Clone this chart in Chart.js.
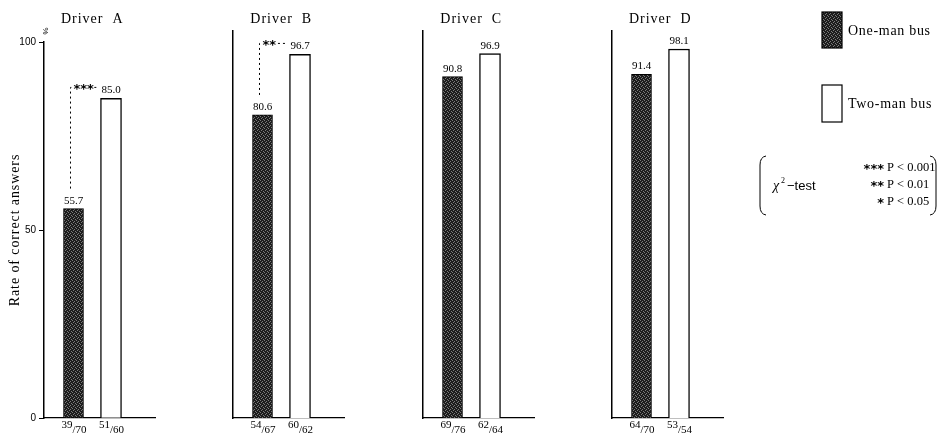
<!DOCTYPE html>
<html>
<head>
<meta charset="utf-8">
<script src="https://cdn.jsdelivr.net/npm/chart.js@4.4.1/dist/chart.umd.min.js"></script>
<style>
  html, body { margin: 0; padding: 0; background: #fff; }
  #wrap { position: relative; width: 939px; height: 436px; overflow: hidden; }
  #wrap canvas { position: absolute; left: 0; top: 0; }
</style>
</head>
<body>
<div id="wrap">
  <canvas id="panel0" width="939" height="436"></canvas>
  <canvas id="panel1" width="939" height="436"></canvas>
  <canvas id="panel2" width="939" height="436"></canvas>
  <canvas id="panel3" width="939" height="436"></canvas>
</div>
<script>
// data
const drivers = ['Driver  A', 'Driver  B', 'Driver  C', 'Driver  D'];
const busTypes = ['One-man bus', 'Two-man bus'];
const oneManRate = [55.7, 80.6, 90.8, 91.4];
const twoManRate = [85.0, 96.7, 96.9, 98.1];
const oneManFrac = [['39', '70'], ['54', '67'], ['69', '76'], ['64', '70']];
const twoManFrac = [['51', '60'], ['60', '62'], ['62', '64'], ['53', '54']];
const significance = ['***', '**', '', ''];
const yTicks = [0, 50, 100];
const pStars = ['***', '**', '*'];
const pTexts = ['P < 0.001', 'P < 0.01', 'P < 0.05'];

// layout
const axisLeft = [44, 233, 423, 612];
const panelWidth = 111;
const firstBar = 29.5;   // px from axis to first bar centre
const barStep = 37.5;    // px between bar centres
const yBottom = 418;
const pxPerUnit = 3.76;
const serif = '"Liberation Serif", "DejaVu Serif", serif';
const sans = '"Liberation Sans", "DejaVu Sans", sans-serif';
const starFont = 'bold 13px "DejaVu Sans", sans-serif';

// stippled fill for the one-man bars
const patCanvas = document.createElement('canvas');
patCanvas.width = 4; patCanvas.height = 4;
const pctx = patCanvas.getContext('2d');
pctx.fillStyle = '#1c1c1c';
pctx.fillRect(0, 0, 4, 4);
pctx.fillStyle = '#7a7a7a';
[[0, 0], [2, 1], [1, 2], [3, 3]].forEach(p => pctx.fillRect(p[0], p[1], 1, 1));
const stipple = pctx.createPattern(patCanvas, 'repeat');

function drawFraction(ctx, frac, cx) {
  ctx.font = '11px ' + serif;
  ctx.textAlign = 'right';
  ctx.fillText(frac[0], cx - 1, 428);
  ctx.textAlign = 'left';
  ctx.fillText('/' + frac[1], cx - 1, 433);
}

const panelDecor = {
  id: 'panelDecor',
  afterDraw(chart, args, opts) {
    const ctx = chart.ctx;
    const i = opts.panel;
    const dark = chart.getDatasetMeta(0).data[0];
    const white = chart.getDatasetMeta(1).data[1];
    ctx.save();
    ctx.fillStyle = '#000';
    ctx.strokeStyle = '#000';
    ctx.textBaseline = 'alphabetic';

    ctx.textAlign = 'center';
    ctx.font = '14px ' + serif;
    ctx.letterSpacing = '1px';
    ctx.fillText(drivers[i], (dark.x + white.x) / 2, 23);
    ctx.letterSpacing = '0px';

    ctx.font = '11px ' + serif;
    ctx.fillText(oneManRate[i].toFixed(1), dark.x, dark.y - 5);
    ctx.fillText(twoManRate[i].toFixed(1), white.x, white.y - 5);

    drawFraction(ctx, oneManFrac[i], dark.x);
    drawFraction(ctx, twoManFrac[i], white.x);

    if (significance[i]) {
      const bx = dark.x - 3;
      const y0 = dark.y - 20;
      const y1 = white.y - 11;
      const x1 = white.x - white.width / 2 - 2;
      ctx.lineWidth = 1;
      ctx.setLineDash([2, 3]);
      ctx.beginPath();
      ctx.moveTo(bx, y0);
      ctx.lineTo(bx, y1);
      ctx.lineTo(x1, y1);
      ctx.stroke();
      ctx.setLineDash([]);
      ctx.font = starFont;
      ctx.textAlign = 'left';
      const w = ctx.measureText(significance[i]).width;
      ctx.fillStyle = '#fff';
      ctx.fillRect(bx + 3, y1 - 3, w, 6);
      ctx.fillStyle = '#000';
      ctx.fillText(significance[i], bx + 3, y1 + 6);
    }

    if (i === 0) {
      // y axis title and % sign
      ctx.save();
      ctx.translate(15, (yBottom + chart.chartArea.top) / 2);
      ctx.rotate(-Math.PI / 2);
      ctx.font = '14px ' + serif;
      ctx.letterSpacing = '0.9px';
      ctx.textAlign = 'center';
      ctx.textBaseline = 'middle';
      ctx.fillText('Rate of correct answers', 0, 0);
      ctx.restore();

      ctx.save();
      ctx.translate(43, 31);
      ctx.rotate(Math.PI / 2);
      ctx.font = '8px ' + sans;
      ctx.textAlign = 'center';
      ctx.fillText('%', 0, 0);
      ctx.restore();

      // legend swatches
      ctx.lineWidth = 1.2;
      ctx.fillStyle = stipple;
      ctx.fillRect(822, 12, 20, 36);
      ctx.strokeRect(822, 12, 20, 36);
      ctx.fillStyle = '#fff';
      ctx.fillRect(822, 85, 20, 37);
      ctx.strokeRect(822, 85, 20, 37);
      ctx.fillStyle = '#000';
      ctx.font = '14px ' + serif;
      ctx.letterSpacing = '0.7px';
      ctx.textAlign = 'left';
      ctx.fillText(busTypes[0], 848, 35);
      ctx.fillText(busTypes[1], 848, 108);
      ctx.letterSpacing = '0px';

      // chi-square key
      ctx.lineWidth = 1;
      ctx.beginPath();
      ctx.moveTo(766, 156);
      ctx.quadraticCurveTo(760, 157, 760, 165);
      ctx.lineTo(760, 206);
      ctx.quadraticCurveTo(760, 214, 766, 215);
      ctx.stroke();
      ctx.beginPath();
      ctx.moveTo(930, 156);
      ctx.quadraticCurveTo(936, 157, 936, 165);
      ctx.lineTo(936, 206);
      ctx.quadraticCurveTo(936, 214, 930, 215);
      ctx.stroke();

      ctx.font = 'italic 14px ' + serif;
      ctx.fillText('\u03c7', 773, 190);
      ctx.font = '8px ' + serif;
      ctx.fillText('2', 781, 183);
      ctx.font = '13px ' + sans;
      ctx.fillText('\u2212test', 787, 190);

      pTexts.forEach((t, k) => {
        const y = 171 + k * 17;
        ctx.font = starFont;
        ctx.textAlign = 'right';
        ctx.fillText(pStars[k], 884, y + 2);
        ctx.font = '12.5px ' + serif;
        ctx.textAlign = 'left';
        ctx.fillText(t, 887, y);
      });
    }
    ctx.restore();
  }
};

drivers.forEach((name, i) => {
  const yMax = i === 0 ? 100 : 103;
  const top = yBottom - yMax * pxPerUnit;
  const left = axisLeft[i];
  new Chart(document.getElementById('panel' + i), {
    type: 'bar',
    data: {
      labels: busTypes.map((b, k) => k),
      datasets: [
        { label: busTypes[0], data: [oneManRate[i], null], backgroundColor: stipple, borderColor: '#000', borderWidth: 1, barThickness: 20 },
        { label: busTypes[1], data: [null, twoManRate[i]], backgroundColor: '#fff', borderColor: '#000', borderWidth: 1.4, barThickness: 21 }
      ]
    },
    options: {
      responsive: false,
      devicePixelRatio: 1,
      animation: false,
      events: [],
      skipNull: true,
      layout: { padding: { left: i === 0 ? 0 : left, right: 939 - left - panelWidth, top: top, bottom: 0 } },
      plugins: { legend: { display: false }, tooltip: { enabled: false }, panelDecor: { panel: i } },
      scales: {
        x: {
          type: 'linear', offset: false,
          min: -firstBar / barStep, max: (panelWidth - firstBar) / barStep,
          grid: { display: false },
          ticks: { display: false },
          border: { display: true, color: '#000', width: 1.3 },
          afterFit: s => { s.height = 436 - yBottom; }
        },
        y: {
          min: 0, max: yMax,
          afterBuildTicks: s => { s.ticks = i === 0 ? yTicks.map(v => ({ value: v })) : []; },
          grid: { drawOnChartArea: false, drawTicks: i === 0, tickLength: 5, color: '#000' },
          ticks: { display: i === 0, color: '#000', padding: 3, font: { family: sans, size: 10 } },
          border: { display: true, color: '#000', width: 1.5 },
          title: { display: false },
          afterFit: s => { s.width = i === 0 ? left : 0; }
        }
      }
    },
    plugins: [panelDecor]
  });
});
</script>
</body>
</html>
